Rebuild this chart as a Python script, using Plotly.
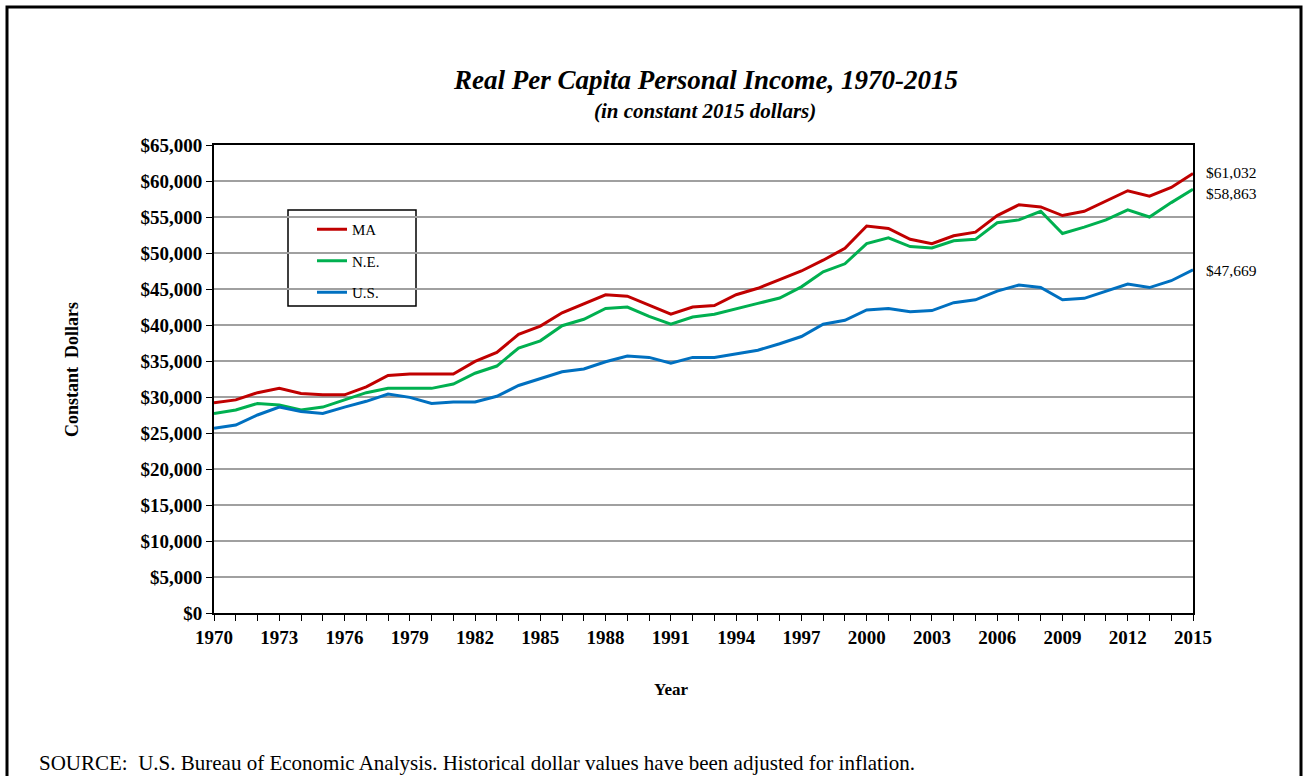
import plotly.graph_objects as go

years = list(range(1970, 2016))

ma = [29200, 29600, 30600, 31200, 30500, 30300, 30300, 31400, 33000, 33200,
      33200, 33200, 34950, 36200, 38700, 39850, 41700, 42900, 44200, 44000,
      42700, 41500, 42500, 42700, 44200, 45100, 46300, 47500, 49000, 50650,
      53750, 53400, 51900, 51300, 52400, 52900, 55200, 56700, 56400, 55200,
      55800, 57200, 58650, 57900, 59100, 61032]

ne = [27700, 28200, 29100, 28900, 28200, 28600, 29600, 30600, 31200, 31200,
      31200, 31800, 33300, 34300, 36800, 37800, 39900, 40800, 42300, 42500,
      41200, 40100, 41100, 41500, 42200, 43000, 43750, 45300, 47400, 48500,
      51300, 52100, 50900, 50700, 51700, 51900, 54200, 54600, 55800, 52700,
      53600, 54600, 56000, 55000, 57000, 58863]

us = [25650, 26100, 27500, 28600, 28000, 27700, 28600, 29400, 30400, 29950,
      29100, 29300, 29300, 30100, 31600, 32500, 33500, 33900, 34900, 35700,
      35500, 34700, 35500, 35500, 36000, 36500, 37400, 38400, 40100, 40650,
      42100, 42300, 41850, 42000, 43100, 43500, 44700, 45550, 45200, 43500,
      43700, 44700, 45700, 45200, 46150, 47669]

series_names = ["MA", "N.E.", "U.S."]
series_colors = ["#C00000", "#00B050", "#0070C0"]
label_shift = [1, -4, -1]   # keeps the two top end labels apart
x_ticks = list(range(1970, 2016, 3))

FONT = "Liberation Serif, Times New Roman, serif"

# plot area in page pixels: x 214..1193, y 145..613
W, H = 1303, 776
L, R, T, B = 214, 110, 145, 163
PW, PH = W - L - R, H - T - B


def px(x):
    return (x - L) / PW


def py(y):
    return (H - B - y) / PH


fig = go.Figure()
for name, vals, color, shift in zip(series_names, [ma, ne, us], series_colors, label_shift):
    fig.add_trace(go.Scatter(
        x=years, y=vals, name=name, mode="lines", legendgroup=name,
        line=dict(color=color, width=3),
    ))
    # value label at the end of each line
    fig.add_annotation(
        x=years[-1], y=vals[-1], text=f"${vals[-1]:,}",
        xanchor="left", yanchor="middle", xshift=11, yshift=shift,
        showarrow=False, font=dict(family=FONT, size=15.5, color="black"),
    )

fig.update_layout(
    width=W, height=H,
    margin=dict(l=L, r=R, t=T, b=B),
    paper_bgcolor="white", plot_bgcolor="white",
    font=dict(family=FONT, color="black"),
    legend=dict(
        x=px(312), y=py(213), xanchor="left", yanchor="top",
        bgcolor="rgba(0,0,0,0)", borderwidth=0,
        font=dict(family=FONT, size=15), tracegroupgap=9,
    ),
    showlegend=True,
)

fig.update_xaxes(
    range=[1970, 2015], tickvals=x_ticks,
    ticks="outside", ticklen=6, tickcolor="black", tickwidth=1,
    minor=dict(dtick=1, tick0=1970, ticks="outside", ticklen=6, tickcolor="black"),
    showline=True, linecolor="black", linewidth=2, mirror=True,
    showgrid=False, zeroline=False,
    tickfont=dict(family=FONT, size=19, color="black", weight="bold"),
)
fig.update_yaxes(
    range=[0, 65000], dtick=5000, tickformat=",", tickprefix="$",
    ticks="outside", ticklen=6, tickcolor="black",
    showline=True, linecolor="black", linewidth=2, mirror=True,
    showgrid=True, gridcolor="#a0a0a0", gridwidth=2, zeroline=False,
    tickfont=dict(family=FONT, size=19, color="black", weight="bold"),
)

# legend box
fig.add_shape(type="rect", xref="paper", yref="paper",
              x0=px(288), x1=px(416), y0=py(306), y1=py(210),
              line=dict(color="black", width=1.5), fillcolor="white", layer="below")

# outer frame around the whole chart
fig.add_shape(type="rect", xref="paper", yref="paper",
              x0=px(7), x1=px(1301), y0=py(800), y1=py(7),
              line=dict(color="black", width=3), layer="above")

texts = [
    ("<b><i>Real Per Capita Personal Income, 1970-2015</i></b>", 705, 80, 27, 0, "center"),
    ("<b><i>(in constant 2015 dollars)</i></b>", 705, 111, 21, 0, "center"),
    ("<b>Year</b>", 671, 689, 17, 0, "center"),
    ("<b>Constant  Dollars</b>", 72, 370, 18, -90, "center"),
    ("SOURCE:  U.S. Bureau of Economic Analysis. Historical dollar values have been adjusted for inflation.",
     37, 763, 21, 0, "left"),
]
for text, x, y, size, angle, anchor in texts:
    fig.add_annotation(
        x=px(x), y=py(y), xref="paper", yref="paper", text=text,
        xanchor=anchor, yanchor="middle", showarrow=False, textangle=angle,
        font=dict(family=FONT, size=size, color="black"),
    )

fig.write_html("out.html", config={"displayModeBar": False},
               post_script="document.body.style.margin='0';")
